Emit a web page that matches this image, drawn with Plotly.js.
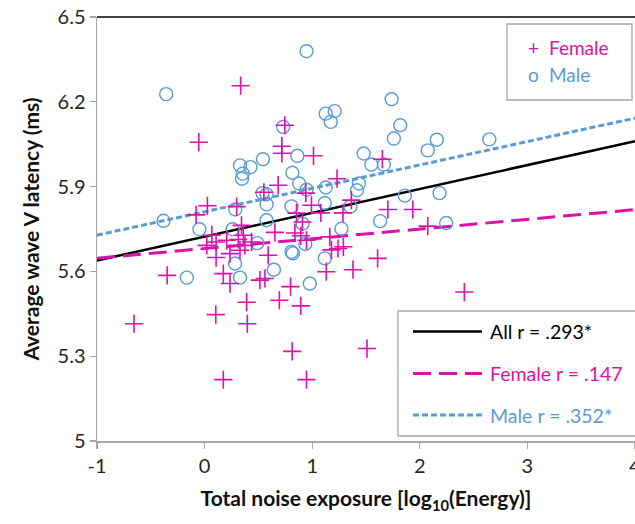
<!DOCTYPE html>
<html>
<head>
<meta charset="utf-8">
<script src="https://cdn.plot.ly/plotly-3.0.1.min.js"></script>
<style>html,body{margin:0;padding:0;overflow:hidden;background:#fff}#chart{width:635px;height:524px}</style>
</head>
<body>
<div id="chart"></div>
<script>
// ---- data ----
const femaleX = [0.335,-0.054,0.026,-0.079,0.298,0.343,0.551,0.067,0.020,0.107,0.107,0.236,0.206,0.313,0.360,0.375,0.329,0.437,0.174,0.236,0.514,0.561,0.391,0.591,0.104,0.397,-0.656,0.174,-0.348,0.695,0.718,0.718,1.012,0.684,1.231,0.941,0.854,0.993,1.080,0.910,1.364,0.746,1.652,1.703,1.935,2.074,1.286,2.414,1.608,0.653,0.839,0.894,0.947,1.163,1.179,1.240,1.290,1.131,1.379,0.799,0.894,0.814,1.509,0.947];
const femaleY = [6.257,6.057,5.832,5.800,5.829,5.763,5.880,5.728,5.692,5.704,5.649,5.663,5.710,5.713,5.728,5.692,5.675,5.704,5.592,5.557,5.569,5.575,5.491,5.657,5.447,5.415,5.415,5.217,5.586,5.498,6.043,6.018,6.009,5.905,5.928,5.877,5.806,5.834,5.807,5.775,5.852,6.117,5.997,5.819,5.819,5.760,5.807,5.527,5.646,5.738,5.736,5.726,5.710,5.722,5.676,5.681,5.687,5.599,5.606,5.546,5.478,5.317,5.327,5.217];
const maleX = [-0.357,0.329,0.426,0.542,0.354,0.348,0.538,0.576,0.576,0.576,-0.382,0.285,-0.048,0.261,0.489,0.283,0.329,-0.165,0.644,0.947,1.738,1.126,1.209,1.172,0.730,1.818,1.759,2.074,2.158,1.478,1.550,1.666,0.862,0.816,0.879,0.947,1.126,0.808,1.117,1.272,1.435,1.416,1.861,2.183,1.631,2.646,2.245,1.355,0.910,0.936,0.808,0.820,1.117,0.978];
const maleY = [6.227,5.975,5.969,5.997,5.946,5.928,5.877,5.873,5.837,5.781,5.779,5.819,5.749,5.749,5.700,5.628,5.578,5.578,5.606,6.379,6.209,6.158,6.167,6.129,6.111,6.117,6.070,6.028,6.066,6.017,5.978,5.978,6.009,5.949,5.911,5.889,5.897,5.830,5.842,5.751,5.911,5.887,5.868,5.877,5.778,6.067,5.771,5.829,5.769,5.697,5.669,5.664,5.646,5.557];

// regression lines: [All, Female, Male]
const fitNames = ["All r = .293*", "Female r = .147", "Male r = .352*"];
const fitIntercept = [5.723, 5.681, 5.811];
const fitSlope = [0.0844, 0.0344, 0.0828];
const fitRange = [-1, 4];

const xTickVals = [-1, 0, 1, 2, 3, 4];
const xTickText = ["-1", "0", "1", "2", "3", "4"];
const yTickVals = [5, 5.3, 5.6, 5.9, 6.2, 6.5];
const yTickText = ["5", "5.3", "5.6", "5.9", "6.2", "6.5"];

// ---- styles ----
const MAG = '#DD11AA';
const BLU = '#5B9BD5';
const FONT = 'Lato, "Open Sans", sans-serif';
const fitStyles = [
  {color: '#000000', width: 2.5, dash: 'solid'},
  {color: MAG, width: 3, dash: '18px,8px'},
  {color: BLU, width: 3, dash: '6px,3px'}
];

const traces = [];
fitNames.forEach((n, i) => {
  traces.push({
    x: fitRange,
    y: fitRange.map(v => fitIntercept[i] + fitSlope[i] * v),
    mode: 'lines', type: 'scatter', name: n, showlegend: false, hoverinfo: 'skip',
    line: fitStyles[i]
  });
});
traces.push({
  x: maleX, y: maleY, mode: 'markers', type: 'scatter', name: 'Male', showlegend: false,
  marker: {symbol: 'circle-open', size: 13, color: BLU, line: {width: 1.4, color: BLU}}
});
traces.push({
  x: femaleX, y: femaleY, mode: 'markers', type: 'scatter', name: 'Female', showlegend: false,
  marker: {symbol: 'cross-thin-open', size: 13, color: MAG, line: {width: 1.6, color: MAG}}
});

// paper-coordinate helpers for legend boxes (plot area: x 97..635, y 17..441)
const L = 97, R = 635, T = 17, B = 441;
const px = v => (v - L) / (R - L);
const py = v => (B - v) / (B - T);

const shapes = [
  {type: 'line', xref: 'paper', yref: 'paper', x0: 0, x1: 1, y0: 1, y1: 1, line: {color: '#000', width: 1.5}},
  {type: 'rect', xref: 'paper', yref: 'paper', x0: px(507), x1: px(632), y0: py(100), y1: py(24),
   line: {color: '#A6A6A6', width: 1.3}, fillcolor: '#fff', layer: 'above'},
  {type: 'rect', xref: 'paper', yref: 'paper', x0: px(398), x1: px(640), y0: py(436), y1: py(311),
   line: {color: '#A6A6A6', width: 1.3}, fillcolor: '#fff', layer: 'above'}
];
const legY = [331.5, 373.5, 415];
fitNames.forEach((n, i) => {
  shapes.push({type: 'line', xref: 'paper', yref: 'paper', x0: px(413), x1: px(482), y0: py(legY[i]), y1: py(legY[i]),
    line: fitStyles[i], layer: 'above'});
});

const annotations = [];
const legColors = ['#000000', MAG, BLU];
fitNames.forEach((n, i) => {
  annotations.push({xref: 'paper', yref: 'paper', x: px(488), y: py(legY[i]), xanchor: 'left', yanchor: 'middle',
    text: n, showarrow: false, font: {family: FONT, size: 19.5, color: legColors[i]}});
});
const topLeg = [['+', 'Female', MAG, 48], ['o', 'Male', BLU, 74]];
topLeg.forEach(r => {
  annotations.push({xref: 'paper', yref: 'paper', x: px(533), y: py(r[3]), xanchor: 'center', yanchor: 'middle',
    text: r[0], showarrow: false, font: {family: FONT, size: 19, color: r[2]}});
  annotations.push({xref: 'paper', yref: 'paper', x: px(547), y: py(r[3]), xanchor: 'left', yanchor: 'middle',
    text: r[1], showarrow: false, font: {family: FONT, size: 19, color: r[2]}});
});

const layout = {
  width: 635, height: 524,
  margin: {l: L, r: 0, t: T, b: 524 - B},
  paper_bgcolor: '#fff', plot_bgcolor: '#fff',
  showlegend: false,
  font: {family: FONT, size: 20, color: '#262626'},
  xaxis: {
    range: [-1, 4], tickvals: xTickVals, ticktext: xTickText, ticklabeloverflow: 'allow',
    showgrid: false, zeroline: false, showline: true, linecolor: '#A6A6A6', linewidth: 1.5,
    ticks: 'outside', ticklen: 6, tickcolor: '#A6A6A6', tickwidth: 1.3,
    tickfont: {family: FONT, size: 20, color: '#262626'},
    title: {text: '<b>Total noise exposure [log<sub>10</sub>(Energy)]</b>', font: {family: FONT, size: 21, color: '#111'}, standoff: 16}
  },
  yaxis: {
    range: [5, 6.5], tickvals: yTickVals, ticktext: yTickText,
    showgrid: false, zeroline: false, showline: true, linecolor: '#A6A6A6', linewidth: 1.5,
    ticks: 'outside', ticklen: 6, tickcolor: '#A6A6A6', tickwidth: 1.3,
    tickfont: {family: FONT, size: 20, color: '#262626'},
    title: {text: '<b>Average wave V latency (ms)</b>', font: {family: FONT, size: 21, color: '#111'}, standoff: 12}
  },
  shapes: shapes,
  annotations: annotations
};

Plotly.newPlot('chart', traces, layout, {displayModeBar: false, staticPlot: true});
</script>
</body>
</html>
